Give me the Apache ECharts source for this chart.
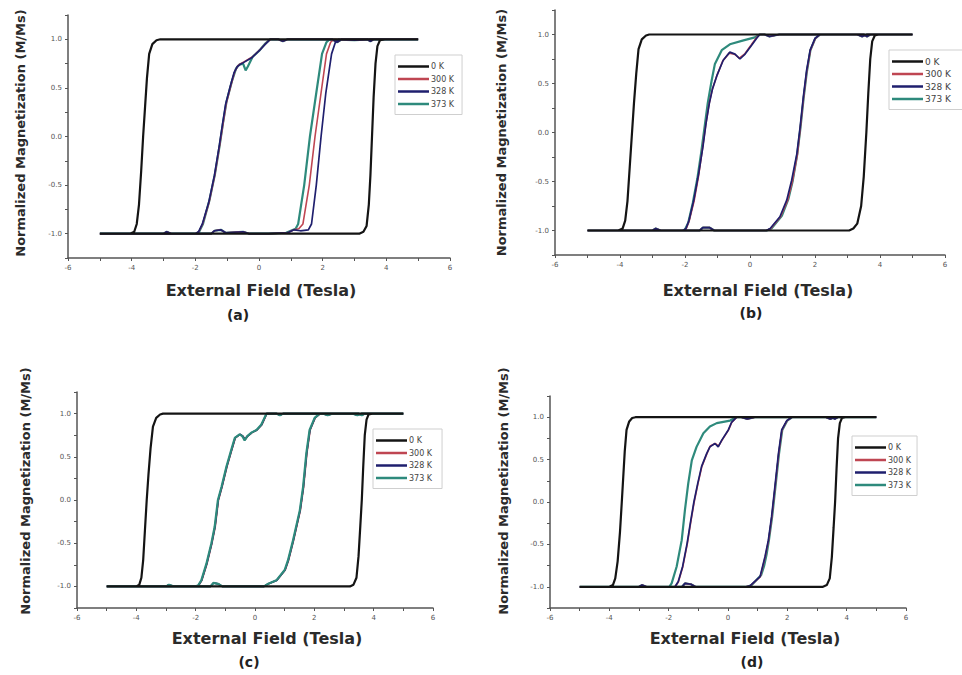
<!DOCTYPE html>
<html><head><meta charset="utf-8">
<script src="https://cdn.jsdelivr.net/npm/echarts@6/dist/echarts.min.js"></script>
<style>html,body{margin:0;padding:0;background:#fff}#c{width:962px;height:675px}</style>
</head><body><div id="c"></div>
<script>
// ---- labels / ticks ----
const temps = ['0 K', '300 K', '328 K', '373 K'];
const yTickLabels = [-1, -0.5, 0, 0.5, 1];
const yTickMarks = [-1.25, -1, -0.75, -0.5, -0.25, 0, 0.25, 0.5, 0.75, 1, 1.25];
const panelLabels = ['(a)', '(b)', '(c)', '(d)'];
const xTitle = 'External Field (Tesla)';
const yTitle = 'Normalized Magnetization (M/Ms)';

// ---- data: [field (T), M/Ms], descending branch then ascending branch ----
const a_0K = [[5,1],[-3.1,1],[-3.22,0.99],[-3.35,0.95],[-3.45,0.85],[-3.52,0.6],[-3.58,0.3],[-3.64,0],[-3.7,-0.35],[-3.77,-0.7],[-3.84,-0.9],[-3.92,-0.98],[-4.05,-1],[-5,-1],[3.15,-1],[3.28,-0.98],[3.38,-0.92],[3.45,-0.7],[3.5,-0.4],[3.55,0],[3.6,0.4],[3.66,0.75],[3.72,0.93],[3.8,0.99],[3.95,1],[5,1]];
const a_300K = [[5,1],[3.6,1],[3.5,0.98],[3.4,1],[2.6,1],[2.45,0.97],[2.3,1],[0.9,1],[0.75,0.98],[0.6,1],[0.36,1],[0.22,0.96],[0.05,0.9],[-0.2,0.82],[-0.46,0.77],[-0.58,0.75],[-0.66,0.73],[-0.76,0.67],[-0.88,0.53],[-1.03,0.34],[-1.13,0.13],[-1.24,-0.1],[-1.39,-0.4],[-1.57,-0.68],[-1.77,-0.9],[-1.89,-0.98],[-1.99,-1],[-5,-1],[-3.0,-1],[-2.9,-0.98],[-2.75,-1],[-1.5,-1],[-1.4,-0.97],[-1.2,-0.96],[-1.05,-0.99],[-0.5,-0.98],[-0.3,-1],[0.3,-1],[0.9,-0.99],[1.1,-0.96],[1.25,-0.95],[1.38,-0.9],[1.58,-0.5],[1.76,0],[1.95,0.45],[2.12,0.85],[2.25,0.97],[2.35,1],[3.0,0.99],[3.5,1],[5,1]];
const a_328K = [[5,1],[3.6,1],[3.5,0.98],[3.4,1],[2.6,1],[2.45,0.97],[2.3,1],[0.9,1],[0.75,0.98],[0.6,1],[0.35,1],[0.2,0.95],[0.03,0.89],[-0.23,0.81],[-0.49,0.76],[-0.6,0.74],[-0.68,0.72],[-0.78,0.66],[-0.9,0.52],[-1.05,0.33],[-1.15,0.12],[-1.25,-0.1],[-1.4,-0.4],[-1.58,-0.68],[-1.78,-0.9],[-1.9,-0.98],[-2.0,-1],[-5,-1],[-3.0,-1],[-2.9,-0.98],[-2.75,-1],[-1.5,-1],[-1.4,-0.97],[-1.2,-0.96],[-1.05,-0.99],[-0.5,-0.98],[-0.3,-1],[0.3,-1],[0.9,-0.99],[1.1,-0.96],[1.3,-0.97],[1.55,-0.96],[1.65,-0.9],[1.8,-0.5],[1.95,0],[2.1,0.45],[2.28,0.85],[2.4,0.97],[2.5,1],[3.0,0.99],[3.5,1],[5,1]];
const a_373K = [[5,1],[3.6,1],[3.5,0.98],[3.4,1],[2.6,1],[2.45,0.97],[2.3,1],[0.9,1],[0.75,0.98],[0.6,1],[0.35,1],[0.18,0.95],[0.0,0.88],[-0.2,0.82],[-0.35,0.72],[-0.42,0.68],[-0.5,0.75],[-0.62,0.74],[-0.72,0.7],[-0.85,0.57],[-1.02,0.36],[-1.13,0.14],[-1.23,-0.08],[-1.38,-0.38],[-1.56,-0.66],[-1.76,-0.9],[-1.88,-0.98],[-1.98,-1],[-5,-1],[-3.0,-1],[-2.9,-0.98],[-2.75,-1],[-1.5,-1],[-1.4,-0.97],[-1.2,-0.96],[-1.05,-0.99],[-0.5,-0.98],[-0.3,-1],[0.3,-1],[0.85,-0.99],[1.0,-0.97],[1.15,-0.95],[1.23,-0.9],[1.42,-0.5],[1.6,0],[1.8,0.45],[1.98,0.85],[2.12,0.97],[2.22,1],[3.0,0.99],[3.5,1],[5,1]];

const b_0K = [[5,1],[-3.1,1],[-3.2,0.99],[-3.33,0.95],[-3.43,0.85],[-3.5,0.6],[-3.57,0.3],[-3.63,0],[-3.7,-0.35],[-3.77,-0.7],[-3.84,-0.9],[-3.92,-0.98],[-4.05,-1],[-5,-1],[3.05,-1],[3.18,-0.98],[3.3,-0.93],[3.42,-0.75],[3.5,-0.45],[3.58,0],[3.64,0.4],[3.7,0.75],[3.76,0.93],[3.84,0.99],[3.95,1],[5,1]];
const b_300K = [[5,1],[3.7,1],[3.6,0.98],[3.5,1],[0.9,1],[0.6,0.98],[0.45,1],[0.3,1],[0.18,0.96],[0.03,0.89],[-0.17,0.8],[-0.33,0.76],[-0.48,0.8],[-0.64,0.81],[-0.84,0.73],[-1.03,0.57],[-1.16,0.44],[-1.26,0.29],[-1.36,0.08],[-1.46,-0.16],[-1.58,-0.44],[-1.72,-0.7],[-1.87,-0.9],[-1.96,-0.98],[-2.04,-1],[-5,-1],[-3.0,-1],[-2.9,-0.98],[-2.75,-1],[-1.55,-1],[-1.45,-0.97],[-1.25,-0.97],[-1.1,-1],[0.5,-1],[0.64,-0.98],[0.94,-0.86],[1.16,-0.69],[1.31,-0.49],[1.46,-0.22],[1.55,0.05],[1.65,0.36],[1.75,0.63],[1.86,0.84],[2.01,0.96],[2.16,1],[3.3,1],[3.45,0.98],[3.6,1],[5,1]];
const b_328K = [[5,1],[3.7,1],[3.6,0.98],[3.5,1],[0.9,1],[0.6,0.98],[0.45,1],[0.3,1],[0.2,0.96],[0.05,0.89],[-0.15,0.8],[-0.31,0.75],[-0.46,0.8],[-0.62,0.82],[-0.82,0.74],[-1.02,0.58],[-1.15,0.45],[-1.25,0.3],[-1.35,0.1],[-1.45,-0.15],[-1.58,-0.42],[-1.73,-0.69],[-1.88,-0.9],[-1.97,-0.98],[-2.05,-1],[-5,-1],[-3.0,-1],[-2.9,-0.98],[-2.75,-1],[-1.55,-1],[-1.45,-0.97],[-1.25,-0.97],[-1.1,-1],[0.5,-1],[0.62,-0.98],[0.92,-0.86],[1.13,-0.69],[1.28,-0.49],[1.44,-0.22],[1.54,0.05],[1.64,0.36],[1.74,0.63],[1.85,0.84],[2.0,0.96],[2.15,1],[3.3,1],[3.45,0.98],[3.6,1],[5,1]];
const b_373K = [[5,1],[3.7,1],[3.6,0.98],[3.5,1],[0.9,1],[0.6,0.98],[0.45,1],[0.3,1],[0.15,0.97],[-0.2,0.94],[-0.62,0.9],[-0.87,0.84],[-1.08,0.7],[-1.18,0.53],[-1.3,0.3],[-1.4,0.05],[-1.5,-0.2],[-1.62,-0.47],[-1.76,-0.72],[-1.9,-0.92],[-2.0,-0.99],[-2.08,-1],[-5,-1],[-3.0,-1],[-2.9,-0.98],[-2.75,-1],[-1.55,-1],[-1.45,-0.97],[-1.25,-0.97],[-1.1,-1],[0.52,-1],[0.66,-0.98],[0.98,-0.85],[1.18,-0.68],[1.31,-0.5],[1.45,-0.23],[1.55,0.04],[1.65,0.35],[1.75,0.62],[1.86,0.84],[2.01,0.96],[2.16,1],[3.3,1],[3.45,0.98],[3.6,1],[5,1]];

const c_0K = [[5,1],[-3.1,1],[-3.2,0.99],[-3.33,0.95],[-3.44,0.85],[-3.52,0.6],[-3.59,0.3],[-3.65,0],[-3.71,-0.35],[-3.77,-0.7],[-3.83,-0.9],[-3.9,-0.98],[-4.0,-1],[-5,-1],[3.2,-1],[3.32,-0.98],[3.42,-0.9],[3.49,-0.65],[3.55,-0.3],[3.6,0],[3.65,0.4],[3.7,0.75],[3.76,0.93],[3.83,0.99],[3.95,1],[5,1]];
const c_300K = [[5,1],[3.7,1],[3.6,0.98],[3.5,1],[2.6,1],[2.45,0.98],[2.3,1],[0.95,1],[0.84,0.98],[0.72,1],[0.4,1],[0.31,0.93],[0.23,0.87],[0.07,0.81],[-0.1,0.78],[-0.24,0.74],[-0.33,0.7],[-0.41,0.74],[-0.5,0.76],[-0.66,0.72],[-0.78,0.58],[-0.94,0.39],[-1.11,0.15],[-1.23,0],[-1.34,-0.31],[-1.45,-0.5],[-1.62,-0.74],[-1.79,-0.93],[-1.9,-0.99],[-1.99,-1],[-5,-1],[-3.0,-1],[-2.9,-0.98],[-2.75,-1],[-1.5,-1],[-1.4,-0.96],[-1.25,-0.97],[-1.1,-1],[0.3,-1],[0.46,-0.97],[0.74,-0.93],[1.02,-0.81],[1.13,-0.7],[1.3,-0.47],[1.53,-0.12],[1.64,0.15],[1.75,0.54],[1.86,0.81],[2.03,0.95],[2.2,1],[3.3,1],[3.45,0.98],[3.6,1],[5,1]];
const c_328K = [[5,1],[3.7,1],[3.6,0.98],[3.5,1],[2.6,1],[2.45,0.98],[2.3,1],[0.95,1],[0.84,0.98],[0.72,1],[0.39,1],[0.3,0.93],[0.22,0.87],[0.06,0.81],[-0.11,0.78],[-0.25,0.74],[-0.34,0.7],[-0.42,0.74],[-0.51,0.76],[-0.67,0.72],[-0.79,0.58],[-0.95,0.39],[-1.12,0.15],[-1.24,0],[-1.35,-0.31],[-1.46,-0.5],[-1.63,-0.74],[-1.8,-0.93],[-1.91,-0.99],[-2.0,-1],[-5,-1],[-3.0,-1],[-2.9,-0.98],[-2.75,-1],[-1.5,-1],[-1.4,-0.96],[-1.25,-0.97],[-1.1,-1],[0.3,-1],[0.45,-0.97],[0.73,-0.93],[1.01,-0.81],[1.12,-0.7],[1.29,-0.47],[1.52,-0.12],[1.63,0.15],[1.74,0.54],[1.85,0.81],[2.02,0.95],[2.19,1],[3.3,1],[3.45,0.98],[3.6,1],[5,1]];
const c_373K = [[5,1],[3.7,1],[3.6,0.98],[3.5,1],[2.6,1],[2.45,0.98],[2.3,1],[0.95,1],[0.84,0.98],[0.72,1],[0.39,1],[0.29,0.93],[0.21,0.87],[0.05,0.81],[-0.12,0.78],[-0.26,0.74],[-0.35,0.69],[-0.43,0.74],[-0.52,0.76],[-0.68,0.72],[-0.8,0.58],[-0.96,0.39],[-1.13,0.15],[-1.25,0],[-1.36,-0.31],[-1.47,-0.5],[-1.64,-0.74],[-1.81,-0.93],[-1.92,-0.99],[-2.01,-1],[-5,-1],[-3.0,-1],[-2.9,-0.98],[-2.75,-1],[-1.5,-1],[-1.4,-0.96],[-1.25,-0.97],[-1.1,-1],[0.3,-1],[0.45,-0.97],[0.72,-0.93],[1.0,-0.81],[1.11,-0.7],[1.28,-0.47],[1.51,-0.12],[1.62,0.15],[1.73,0.54],[1.84,0.81],[2.01,0.95],[2.18,1],[3.3,1],[3.45,0.98],[3.6,1],[5,1]];

const d_0K = [[5,1],[-3.12,1],[-3.23,0.99],[-3.33,0.95],[-3.42,0.85],[-3.48,0.6],[-3.53,0.3],[-3.58,0],[-3.64,-0.35],[-3.72,-0.7],[-3.8,-0.9],[-3.88,-0.98],[-4.0,-1],[-5,-1],[3.2,-1],[3.33,-0.98],[3.43,-0.9],[3.5,-0.65],[3.56,-0.3],[3.61,0],[3.66,0.4],[3.71,0.75],[3.77,0.93],[3.84,0.99],[3.95,1],[5,1]];
const d_300K = [[5,1],[3.7,1],[3.6,0.98],[3.5,1],[0.9,1],[0.65,0.98],[0.45,1],[0.3,1],[0.13,0.94],[0.02,0.85],[-0.2,0.73],[-0.32,0.66],[-0.43,0.69],[-0.6,0.66],[-0.71,0.57],[-0.88,0.42],[-1.01,0.22],[-1.14,0.0],[-1.26,-0.25],[-1.37,-0.49],[-1.52,-0.76],[-1.67,-0.94],[-1.78,-1],[-5,-1],[-3.0,-1],[-2.9,-0.98],[-2.75,-1],[-1.55,-1],[-1.45,-0.96],[-1.25,-0.97],[-1.1,-1],[0.6,-1],[0.75,-0.99],[1.09,-0.88],[1.26,-0.64],[1.37,-0.45],[1.48,-0.17],[1.59,0.18],[1.71,0.57],[1.82,0.85],[1.99,0.96],[2.16,1],[3.3,1],[3.45,0.98],[3.6,1],[5,1]];
const d_328K = [[5,1],[3.7,1],[3.6,0.98],[3.5,1],[0.9,1],[0.65,0.98],[0.45,1],[0.29,1],[0.12,0.94],[0.01,0.85],[-0.21,0.73],[-0.33,0.65],[-0.44,0.69],[-0.61,0.65],[-0.72,0.57],[-0.89,0.42],[-1.02,0.22],[-1.15,0.0],[-1.27,-0.25],[-1.38,-0.49],[-1.53,-0.76],[-1.68,-0.94],[-1.79,-1],[-5,-1],[-3.0,-1],[-2.9,-0.98],[-2.75,-1],[-1.55,-1],[-1.45,-0.96],[-1.25,-0.97],[-1.1,-1],[0.6,-1],[0.74,-0.99],[1.08,-0.88],[1.25,-0.64],[1.36,-0.45],[1.47,-0.17],[1.58,0.18],[1.7,0.57],[1.81,0.85],[1.98,0.96],[2.15,1],[3.3,1],[3.45,0.98],[3.6,1],[5,1]];
const d_373K = [[5,1],[3.7,1],[3.6,0.98],[3.5,1],[0.9,1],[0.65,0.98],[0.45,1],[0.29,1],[0.07,0.96],[-0.38,0.93],[-0.61,0.89],[-0.83,0.81],[-1.06,0.65],[-1.22,0.49],[-1.34,0.22],[-1.45,-0.09],[-1.56,-0.45],[-1.73,-0.76],[-1.9,-0.96],[-1.98,-1],[-5,-1],[-3.0,-1],[-2.9,-0.98],[-2.75,-1],[-1.55,-1],[-1.45,-0.96],[-1.25,-0.97],[-1.1,-1],[0.65,-1],[0.8,-0.98],[1.12,-0.86],[1.22,-0.75],[1.3,-0.62],[1.38,-0.45],[1.49,-0.17],[1.6,0.18],[1.72,0.57],[1.83,0.85],[2.0,0.96],[2.17,1],[3.3,1],[3.45,0.98],[3.6,1],[5,1]];

const panelData = [
  [a_0K, a_300K, a_328K, a_373K],
  [b_0K, b_300K, b_328K, b_373K],
  [c_0K, c_300K, c_328K, c_373K],
  [d_0K, d_300K, d_328K, d_373K]
];

// ---- presentation ----
const colors = ['#141414', '#bf4652', '#1f1f6e', '#2e8a7c'];
const widths = [2.2, 1.6, 1.7, 2.2];
const FONT = '"DejaVu Sans", "Liberation Sans", sans-serif';
const layout = [
  { grid: {left: 68,  top: 15,  width: 382, height: 243}, xGap: 24, xPad: 4,  yGap: 41, yPad: 7,  lab: [238, 315], leg: {left: 395, top: 55, fs: 8, pr: 8},  z: [6, 4, 5, 3] },
  { grid: {left: 555, top: 10,  width: 390, height: 245}, xGap: 27, xPad: 16, yGap: 47, yPad: 0,  lab: [751, 313], leg: {left: 889, top: 50, fs: 9, pr: 30}, z: [6, 4, 5, 3] },
  { grid: {left: 77,  top: 392, width: 356, height: 216}, xGap: 22, xPad: 24, yGap: 45, yPad: 18, lab: [249, 662], leg: {left: 373, top: 429, fs: 8, pr: 10}, z: [6, 3, 4, 5] },
  { grid: {left: 550, top: 396, width: 356, height: 212}, xGap: 22, xPad: 34, yGap: 40, yPad: 22, lab: [752, 662], leg: {left: 852, top: 436, fs: 8, pr: 6},  z: [6, 4, 5, 3] }
];
const axisCol = '#555';

const chart = echarts.init(document.getElementById('c'), null, {renderer: 'svg'});
const option = {
  animation: false,
  backgroundColor: '#fff',
  grid: layout.map(L => Object.assign({containLabel: false}, L.grid)),
  xAxis: layout.map((L, i) => ({
    type: 'value', gridIndex: i, min: -6, max: 6, interval: 2,
    name: xTitle, nameLocation: 'middle', nameGap: L.xGap,
    nameTextStyle: {fontFamily: FONT, fontWeight: 'bold', fontSize: 16, color: '#2b2b2b', padding: [0, 0, 0, L.xPad]},
    axisLine: {show: true, onZero: false, lineStyle: {color: axisCol, width: 1.5}},
    axisTick: {show: true, length: 3, lineStyle: {color: axisCol}},
    minorTick: {show: true, splitNumber: 2, length: 3, lineStyle: {color: axisCol}},
    axisLabel: {fontFamily: FONT, fontSize: 7, color: '#555', margin: 6},
    splitLine: {show: false}
  })),
  yAxis: layout.map((L, i) => ({
    type: 'value', gridIndex: i, min: -1.25, max: 1.25,
    name: yTitle, nameLocation: 'middle', nameGap: L.yGap,
    nameTextStyle: {fontFamily: FONT, fontWeight: 'bold', fontSize: 13, color: '#2b2b2b', padding: [0, 0, 0, L.yPad]},
    axisLine: {show: true, onZero: false, lineStyle: {color: axisCol, width: 1.5}},
    axisTick: {show: true, length: 3, customValues: yTickMarks, lineStyle: {color: axisCol}},
    axisLabel: {fontFamily: FONT, fontSize: 7, color: '#555', margin: 6, customValues: yTickLabels,
      formatter: v => v.toFixed(1)},
    splitLine: {show: false}
  })),
  legend: layout.map(L => ({
    data: temps, orient: 'vertical', left: L.leg.left, top: L.leg.top,
    icon: 'rect', itemWidth: 31, itemHeight: 2.5, itemGap: 1.5,
    padding: [6, L.leg.pr, 5, 3], borderColor: '#cfcfcf', borderWidth: 1,
    selectedMode: false,
    textStyle: {fontFamily: FONT, fontSize: L.leg.fs, color: '#444', lineHeight: 11, padding: [0, 0, 0, -3]}
  })),
  graphic: layout.map((L, i) => ({
    type: 'text', x: L.lab[0], y: L.lab[1],
    style: {text: panelLabels[i], font: 'bold 14px ' + FONT, fill: '#222',
      align: 'center', verticalAlign: 'middle', textAlign: 'center', textVerticalAlign: 'middle'}
  })),
  series: []
};
panelData.forEach((set, i) => {
  set.forEach((data, j) => {
    option.series.push({
      type: 'line', name: temps[j], xAxisIndex: i, yAxisIndex: i,
      data: data, showSymbol: false, symbol: 'none', color: colors[j],
      lineStyle: {width: widths[j], color: colors[j]}, z: layout[i].z[j]
    });
  });
});
chart.setOption(option);
</script>
</body></html>
